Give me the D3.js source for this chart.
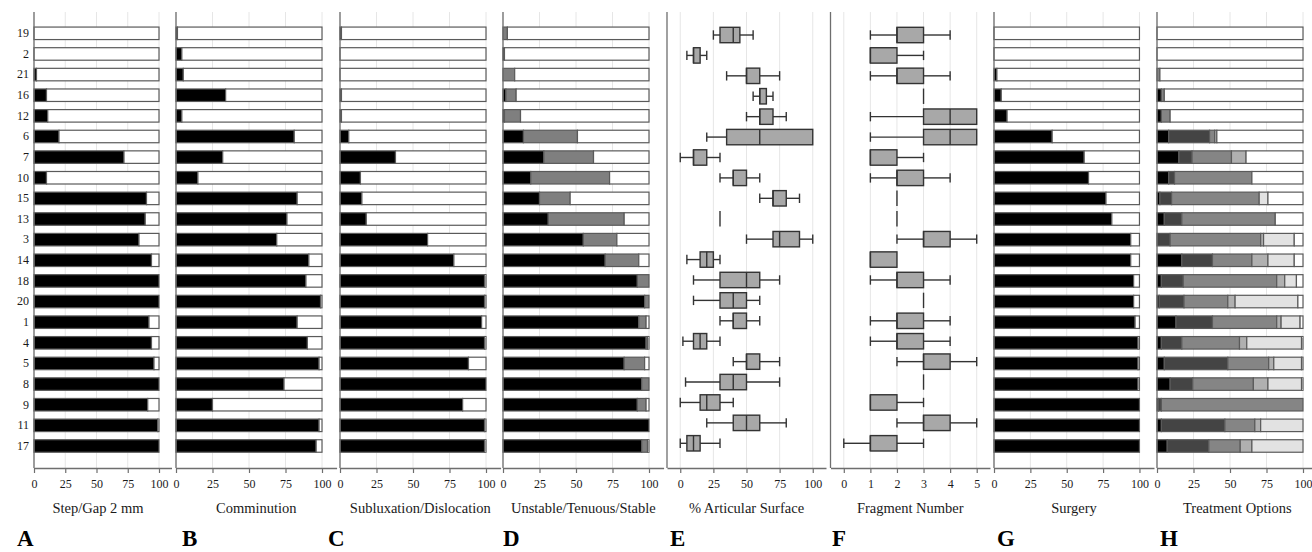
<!DOCTYPE html>
<html>
<head>
<meta charset="utf-8">
<script src="https://cdn.jsdelivr.net/npm/d3@7"></script>
<style>
  body { margin: 0; background: #fff; }
  svg text { font-family: "Liberation Serif", "Times New Roman", serif; fill: #1a1a1a; }
</style>
</head>
<body>
<div class="chart"></div>
<script>
// categories, top to bottom
const rows = ["19", "2", "21", "16", "12", "6", "7", "10", "15", "13", "3", "14", "18", "20", "1", "4", "5", "8", "9", "11", "17"];

// A-D, G: percent answering "yes" (black part)
const stepGap     = [0, 0, 2, 10, 11, 20, 72, 10, 90, 89, 84, 94, 100, 100, 92, 94, 96, 100, 91, 99, 100];
const comminution = [1, 4, 5, 34, 4, 81, 32, 15, 83, 76, 69, 91, 89, 99, 83, 90, 98, 74, 25, 98, 96];
const subluxation = [1, 0, 0, 1, 1, 6, 38, 14, 15, 18, 60, 78, 99, 99, 97, 99, 88, 100, 84, 99, 99];
const unstable    = [0, 1, 0, 2, 1, 14, 28, 19, 25, 31, 55, 70, 92, 97, 93, 98, 83, 95, 92, 100, 95];
const tenuous     = [3, 0, 8, 7, 11, 37, 34, 54, 21, 52, 23, 23, 8, 3, 5, 1, 14, 5, 6, 0, 4];
const surgery     = [0, 0, 2, 5, 9, 40, 62, 65, 77, 81, 94, 94, 96, 96, 97, 99, 99, 99, 100, 100, 100];

// E: % articular surface (box plots)
const artMin = [25, 5, 35, 55, 50, 20, 0, 30, 60, 30, 50, 5, 10, 10, 30, 2, 40, 4, 0, 20, 0];
const artQ1  = [30, 10, 50, 60, 60, 35, 10, 40, 70, 30, 70, 15, 30, 30, 40, 10, 50, 30, 15, 40, 5];
const artMed = [40, 10, 50, 60, 60, 60, 10, 40, 70, 30, 75, 20, 50, 40, 40, 15, 50, 40, 20, 50, 10];
const artQ3  = [45, 15, 60, 65, 70, 100, 20, 50, 80, 30, 90, 25, 60, 50, 50, 20, 60, 50, 30, 60, 15];
const artMax = [55, 20, 75, 70, 80, 100, 30, 60, 90, 30, 100, 30, 75, 60, 60, 30, 75, 75, 40, 80, 30];

// F: fragment number (box plots)
const fragMin = [1, 1, 1, 3, 1, 1, 1, 1, 2, 2, 2, 1, 1, 3, 1, 1, 2, 3, 1, 2, 0];
const fragQ1  = [2, 1, 2, 3, 3, 3, 1, 2, 2, 2, 3, 1, 2, 3, 2, 2, 3, 3, 1, 3, 1];
const fragMed = [2, 1, 2, 3, 4, 4, 1, 2, 2, 2, 3, 1, 2, 3, 2, 2, 3, 3, 1, 3, 1];
const fragQ3  = [3, 2, 3, 3, 5, 5, 2, 3, 2, 2, 4, 2, 3, 3, 3, 3, 4, 3, 2, 4, 2];
const fragMax = [4, 3, 4, 3, 5, 5, 3, 4, 2, 2, 5, 2, 4, 3, 4, 4, 5, 3, 3, 5, 3];

// H: treatment options, five shaded parts (rest is white)
const txBlack = [0, 0, 0, 3, 3, 8, 15, 8, 2, 5, 0, 17, 3, 1.5, 13, 3, 5, 9, 1, 3, 7];
const txDark  = [0, 0, 0, 0, 0, 28, 9, 4, 8, 12, 9, 21, 15, 17, 25, 14, 43.5, 15.5, 2, 43.5, 28.5];
const txMid   = [0, 0, 2, 2, 6, 3.5, 27, 53, 60, 64, 62, 27, 64, 30, 44, 39.5, 28, 41.5, 97, 20.5, 21.5];
const txLight = [0, 0, 0, 0, 0, 1.5, 10, 0, 0, 0, 2, 11, 5.5, 5, 3, 5, 3.5, 10, 0, 4, 8];
const txPale  = [0, 0, 0, 0, 0, 0, 0, 0, 6, 0, 21, 18, 8, 43, 13, 37.5, 19, 23, 0, 29, 35];

const pctTicks = [0, 25, 50, 75, 100];
const fragTicks = [0, 1, 2, 3, 4, 5];
const titles = ["Step/Gap 2 mm", "Comminution", "Subluxation/Dislocation", "Unstable/Tenuous/Stable",
                "% Articular Surface", "Fragment Number", "Surgery", "Treatment Options"];
const letters = ["A", "B", "C", "D", "E", "F", "G", "H"];

let width = 1312,
    height = 552,
    panelTop = 12,
    axisY = 468;

const serif = '"Liberation Serif", "Times New Roman", serif';

const panels = [
    {type: "bar", left: 34, right: 171.5, domain: [0, 110], ticks: pctTicks, series: [stepGap], fills: ["#000"], titleX: 98, letterX: 17},
    {type: "bar", left: 176, right: 336.6, domain: [0, 110], ticks: pctTicks, series: [comminution], fills: ["#000"], letterX: 182},
    {type: "bar", left: 340, right: 500.6, domain: [0, 110], ticks: pctTicks, series: [subluxation], fills: ["#000"], letterX: 328},
    {type: "bar", left: 503, right: 663.6, domain: [0, 110], ticks: pctTicks, series: [unstable, tenuous], fills: ["#000", "#7f7f7f"], letterX: 503},
    {type: "box", left: 667, right: 826, domain: [-10, 110], ticks: pctTicks, box: [artMin, artQ1, artMed, artQ3, artMax], letterX: 670},
    {type: "box", left: 830.5, right: 990, domain: [-0.5, 5.5], ticks: fragTicks, box: [fragMin, fragQ1, fragMed, fragQ3, fragMax], letterX: 832},
    {type: "bar", left: 994, right: 1154, domain: [0, 110], ticks: pctTicks, series: [surgery], fills: ["#000"], letterX: 997},
    {type: "bar", left: 1157, right: 1317.6, domain: [0, 110], ticks: pctTicks,
     series: [txBlack, txDark, txMid, txLight, txPale], fills: ["#000", "#444", "#858585", "#b0b0b0", "#e2e2e2"], letterX: 1160}
];

document.addEventListener('DOMContentLoaded', () => {
    let svg = d3.select(".chart").append("svg")
        .attr("width", width)
        .attr("height", height);

    let yBar = d3.scaleBand().domain(rows).range([23, 456.3])
        .paddingInner(0.394).paddingOuter(0.197);
    let yBox = d3.scaleBand().domain(rows).range([24.8, 453.5]);
    let boxH = 15.4;

    panels.forEach((p, pi) => {
        let x = d3.scaleLinear().domain(p.domain).range([p.left, p.right]);
        let g = svg.append("g");

        // grid
        p.ticks.forEach(t => {
            g.append("line")
                .attr("x1", x(t)).attr("x2", x(t))
                .attr("y1", panelTop).attr("y2", axisY)
                .attr("stroke", "#e6e6e6")
                .attr("stroke-width", 1);
        });

        if (p.type == "bar") {
            let keys = p.series.map((s, k) => "s" + k).concat(["rest"]);
            let table = rows.map((r, i) => {
                let o = {row: r}, sum = 0;
                p.series.forEach((s, k) => { o["s" + k] = s[i]; sum += s[i]; });
                o.rest = Math.max(0, 100 - sum);
                return o;
            });
            let stacked = d3.stack().keys(keys)(table);
            let fills = p.fills.concat(["#fff"]);
            stacked.forEach((layer, li) => {
                layer.forEach(d => {
                    if (d[1] - d[0] <= 0) return;
                    g.append("rect")
                        .attr("x", x(d[0]))
                        .attr("y", yBar(d.data.row))
                        .attr("width", x(d[1]) - x(d[0]))
                        .attr("height", yBar.bandwidth())
                        .attr("fill", fills[li])
                        .attr("stroke", "#5a5a5a")
                        .attr("stroke-width", 1.2);
                });
            });
        } else {
            let [mn, q1, md, q3, mx] = p.box;
            rows.forEach((r, i) => {
                let c = yBox(r) + yBox.bandwidth() / 2;
                let line = (x1, y1, x2, y2) => g.append("line")
                    .attr("x1", x1).attr("y1", y1).attr("x2", x2).attr("y2", y2)
                    .attr("stroke", "#333").attr("stroke-width", 1.4);
                if (mn[i] < q1[i]) {
                    line(x(mn[i]), c, x(q1[i]), c);
                    line(x(mn[i]), c - 4.7, x(mn[i]), c + 4.7);
                }
                if (mx[i] > q3[i]) {
                    line(x(q3[i]), c, x(mx[i]), c);
                    line(x(mx[i]), c - 4.7, x(mx[i]), c + 4.7);
                }
                if (q3[i] > q1[i]) {
                    g.append("rect")
                        .attr("x", x(q1[i]))
                        .attr("y", c - boxH / 2)
                        .attr("width", x(q3[i]) - x(q1[i]))
                        .attr("height", boxH)
                        .attr("fill", "#a8a8a8")
                        .attr("stroke", "#333")
                        .attr("stroke-width", 1.4);
                }
                line(x(md[i]), c - boxH / 2, x(md[i]), c + boxH / 2);
            });
        }

        // axes
        g.append("line")
            .attr("x1", p.left).attr("x2", p.left)
            .attr("y1", panelTop).attr("y2", axisY)
            .attr("stroke", "#6e6e6e").attr("stroke-width", 1.3);

        let xAxis = g.append("g")
            .attr("transform", `translate(0,${axisY})`)
            .call(d3.axisBottom(x).tickValues(p.ticks).tickFormat(d3.format("d"))
                .tickSize(5).tickSizeOuter(0).tickPadding(6));
        xAxis.select(".domain").attr("stroke", "#6e6e6e").attr("stroke-width", 1.3);
        xAxis.selectAll(".tick line").attr("stroke", "#6e6e6e").attr("stroke-width", 1.2);
        xAxis.selectAll("text")
            .style("font-family", serif)
            .style("font-size", "12px")
            .style("fill", "#1a1a1a");

        if (pi == 0) {
            let yAxis = g.append("g")
                .attr("transform", `translate(${p.left},0)`)
                .call(d3.axisLeft(yBar).tickSize(0).tickPadding(5));
            yAxis.select(".domain").remove();
            yAxis.selectAll("text")
                .style("font-family", serif)
                .style("font-size", "12px")
                .style("fill", "#1a1a1a");
        }

        g.append("text")
            .attr("x", p.titleX != null ? p.titleX : (p.left + p.right) / 2)
            .attr("y", 513)
            .attr("text-anchor", "middle")
            .style("font-size", "14.5px")
            .text(titles[pi]);

        g.append("text")
            .attr("x", p.letterX)
            .attr("y", 546)
            .style("font-size", "23px")
            .style("font-weight", "bold")
            .style("fill", "#000")
            .text(letters[pi]);
    });
});
</script>
</body>
</html>
